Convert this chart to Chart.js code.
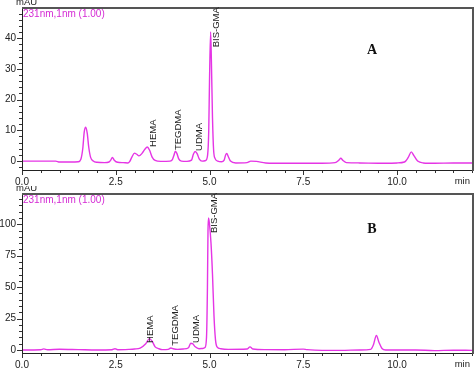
<!DOCTYPE html>
<html>
<head>
<meta charset="utf-8">
<script src="https://cdn.jsdelivr.net/npm/chart.js@4.4.0/dist/chart.umd.min.js"></script>
<style>
    body { margin: 0; background: #fff; width: 474px; height: 369px; overflow: hidden; position: relative; }
    canvas { position: absolute; left: 0; }
    #chart-a { top: 0; }
    #chart-b { top: 186px; }
</style>
</head>
<body>
<canvas id="chart-a" width="474" height="186"></canvas>
<canvas id="chart-b" width="474" height="183"></canvas>
<script>
// Chromatogram A (time in min, signal in mAU)
const timesA = [0, 0.5, 0.9, 1.0, 1.3, 1.5, 1.57, 1.62, 1.66, 1.7, 1.74, 1.78, 1.83, 1.9, 2.0, 2.2, 2.32, 2.37, 2.41, 2.46,
    2.55, 2.7, 2.82, 2.87, 2.93, 3.0, 3.05, 3.12, 3.2, 3.28, 3.34, 3.4, 3.47, 3.55, 3.7, 3.95, 4.01, 4.05, 4.09, 4.13,
    4.18, 4.25, 4.4, 4.52, 4.57, 4.62, 4.67, 4.73, 4.8, 4.9, 4.95, 4.98, 5.0, 5.03, 5.05, 5.08, 5.11, 5.15, 5.22, 5.32,
    5.39, 5.43, 5.46, 5.5, 5.56, 5.7, 6.0, 6.1, 6.25, 6.5, 7.0, 7.5, 8.0, 8.35, 8.45, 8.5, 8.56, 8.65, 9.0, 9.5,
    10.0, 10.2, 10.3, 10.38, 10.45, 10.55, 10.7, 11.0, 11.5, 12.0];
const signalA = [0, 0, 0, -0.3, -0.3, -0.2, 0.6, 4, 9.5, 11, 9, 4.5, 1.2, 0, -0.4, -0.5, -0.3, 0.4, 1.2, 0.3,
    -0.4, -0.5, -0.6, -0.2, 1.3, 2.6, 2.3, 1.7, 2.5, 3.9, 4.6, 3.6, 1.3, 0.2, -0.1, 0, 0.5, 1.8, 3.2, 2.5,
    0.7, 0, -0.1, 0.3, 2.2, 3.1, 2.4, 0.6, 0, 0.2, 2, 10, 26, 42, 33, 14, 3.5, 0.8, 0, -0.2,
    0.3, 2, 2.5, 1.5, 0, -0.6, -0.5, 0, -0.1, -0.6, -0.7, -0.7, -0.7, -0.5, 0.3, 0.9, 0.2, -0.5, -0.6, -0.7,
    -0.6, -0.3, 1.2, 3.0, 1.8, 0, -0.6, -0.7, -0.6, -0.6];

// Chromatogram B
const timesB = [0, 0.5, 0.58, 0.68, 1.0, 1.5, 2.0, 2.4, 2.48, 2.55, 2.85, 3.0, 3.15, 3.3, 3.4, 3.47, 3.55, 3.65, 3.75, 3.9,
    3.97, 4.03, 4.15, 4.3, 4.44, 4.5, 4.55, 4.62, 4.72, 4.82, 4.88, 4.92, 4.945, 4.96, 4.975, 5.0, 5.04, 5.08, 5.12, 5.16,
    5.2, 5.3, 5.5, 6.0, 6.08, 6.16, 6.5, 7.0, 7.5, 7.6, 8.0, 8.5, 9.0, 9.3, 9.37, 9.45, 9.52, 9.6, 9.7, 10.5,
    11.0, 11.5, 12.0];
const signalB = [0, 0.2, 0.9, 0.2, 0.6, 0.3, 0, 0.2, 1.0, 0.2, 0.5, 0.8, 1.5, 5, 9, 7, 2.5, 1, 0.3, 0.5,
    1.6, 1, 0.5, 0.8, 1.8, 5.3, 5, 2.5, 1, 1.2, 2, 10, 50, 95, 105, 100, 85, 60, 27, 8,
    2.5, 1, 0.5, 0.8, 2.5, 0.8, 0.3, 0.2, 0.7, 0.3, -0.3, -0.3, 0, 0.5, 4, 11.5, 6, 1.2, 0, 0,
    -0.5, -0.2, -0.3];

// axis ticks
const xTicks = [0, 2.5, 5, 7.5, 10];
const yTicksA = [0, 10, 20, 30, 40];
const yTicksB = [0, 25, 50, 75, 100];

// peak labels: name, time and level where the text starts
const peakNames = ['HEMA', 'TEGDMA', 'UDMA', 'BIS-GMA'];
const labelTimesA = [3.51, 4.18, 4.72, 5.18];
const labelLevelsA = [4.6, 3.6, 3.3, 37];
const labelTimesB = [3.43, 4.09, 4.66, 5.13];
const labelLevelsB = [5.6, 3.4, 5.6, 93];

const lineColor = '#e535e5';
const fontFamily = '"Liberation Sans", Arial, sans-serif';

// frame, minor ticks and the extra texts
const decorPlugin = {
    id: 'decor',
    afterDraw(chart, args, opts) {
        const { ctx, chartArea: a, scales: { x, y } } = chart;
        ctx.save();

        // tick marks
        ctx.strokeStyle = '#333';
        ctx.lineWidth = 1;
        ctx.beginPath();
        for (let t = 0; t <= x.max + 1e-6; t += 0.5) {
            const px = Math.round(x.getPixelForValue(t)) + 0.5;
            const major = Math.abs(t / 2.5 - Math.round(t / 2.5)) < 1e-6;
            ctx.moveTo(px, a.bottom);
            ctx.lineTo(px, a.bottom + (major ? 5 : 3));
        }
        for (let v = opts.yMinor * Math.ceil(y.min / opts.yMinor); v <= y.max; v += opts.yMinor) {
            const py = Math.round(y.getPixelForValue(v)) + 0.5;
            const major = opts.yTicks.includes(v);
            ctx.moveTo(a.left, py);
            ctx.lineTo(a.left - (major ? 5 : 3), py);
        }
        ctx.stroke();

        // axes and frame
        ctx.strokeStyle = '#222';
        ctx.beginPath();
        ctx.moveTo(a.left + 0.5, a.top);
        ctx.lineTo(a.left + 0.5, a.bottom + 0.5);
        ctx.lineTo(a.right, a.bottom + 0.5);
        ctx.stroke();
        ctx.strokeStyle = '#555';
        ctx.lineWidth = 2;
        ctx.beginPath();
        ctx.moveTo(a.left, a.top);
        ctx.lineTo(a.right + 1, a.top);
        ctx.lineTo(a.right + 1, a.bottom + 1);
        ctx.stroke();

        // texts
        ctx.fillStyle = '#222';
        ctx.font = '9.5px ' + fontFamily;
        ctx.textAlign = 'left';
        ctx.textBaseline = 'bottom';
        ctx.fillText('mAU', a.left - 6, a.top - 1);
        ctx.textAlign = 'right';
        ctx.textBaseline = 'top';
        ctx.fillText('min', a.right - 2, a.bottom + 7);

        ctx.fillStyle = '#d42ad4';
        ctx.font = '10px ' + fontFamily;
        ctx.textAlign = 'left';
        ctx.textBaseline = 'top';
        ctx.fillText('231nm,1nm (1.00)', a.left + 1, a.top + 1);

        ctx.fillStyle = '#222';
        ctx.font = '9.5px ' + fontFamily;
        ctx.textBaseline = 'middle';
        opts.names.forEach((name, i) => {
            ctx.save();
            ctx.translate(x.getPixelForValue(opts.times[i]), y.getPixelForValue(opts.levels[i]));
            ctx.rotate(-Math.PI / 2);
            ctx.fillText(name, 0, 0);
            ctx.restore();
        });

        ctx.fillStyle = '#111';
        ctx.font = 'bold 14px "Liberation Serif", "Times New Roman", serif';
        ctx.textAlign = 'center';
        ctx.fillText(opts.panel, opts.panelX, opts.panelY);
        ctx.restore();
    }
};

function makeChart(id, times, signal, yMin, yMax, yTicks, yMinor, labelTimes, labelLevels, panel, panelY) {
    const ctx = document.getElementById(id).getContext('2d');
    return new Chart(ctx, {
        type: 'line',
        data: {
            datasets: [{
                data: times.map((t, i) => ({ x: t, y: signal[i] })),
                borderColor: lineColor,
                borderWidth: 1.4,
                pointRadius: 0,
                cubicInterpolationMode: 'monotone',
                fill: false
            }]
        },
        options: {
            responsive: false,
            animation: false,
            devicePixelRatio: 1,
            layout: { padding: { top: 8, right: 2, left: 0, bottom: 0 } },
            plugins: {
                legend: { display: false },
                tooltip: { enabled: false },
                decor: {
                    yTicks: yTicks, yMinor: yMinor,
                    names: peakNames, times: labelTimes, levels: labelLevels,
                    panel: panel, panelX: 372, panelY: panelY
                }
            },
            scales: {
                x: {
                    type: 'linear',
                    min: 0,
                    max: 12,
                    afterBuildTicks: scale => { scale.ticks = xTicks.map(v => ({ value: v })); },
                    afterFit: scale => { scale.height = id === 'chart-a' ? 16 : 16; },
                    grid: { drawOnChartArea: false, color: 'rgba(0,0,0,0)', tickLength: 4 },
                    border: { display: false },
                    ticks: {
                        autoSkip: false, maxRotation: 0, padding: 2, color: '#222',
                        font: { family: fontFamily, size: 10 },
                        callback: v => v.toFixed(1)
                    }
                },
                y: {
                    min: yMin,
                    max: yMax,
                    afterBuildTicks: scale => { scale.ticks = yTicks.map(v => ({ value: v })); },
                    afterFit: scale => { scale.width = 22; },
                    grid: { drawOnChartArea: false, color: 'rgba(0,0,0,0)', tickLength: 4 },
                    border: { display: false },
                    ticks: {
                        padding: 2, color: '#222',
                        font: { family: fontFamily, size: 10 }
                    }
                }
            }
        },
        plugins: [decorPlugin]
    });
}

makeChart('chart-a', timesA, signalA, -2.9, 49.8, yTicksA, 2, labelTimesA, labelLevelsA, 'A', 50);
makeChart('chart-b', timesB, signalB, -2.4, 124.1, yTicksB, 5, labelTimesB, labelLevelsB, 'B', 43);
</script>
</body>
</html>
